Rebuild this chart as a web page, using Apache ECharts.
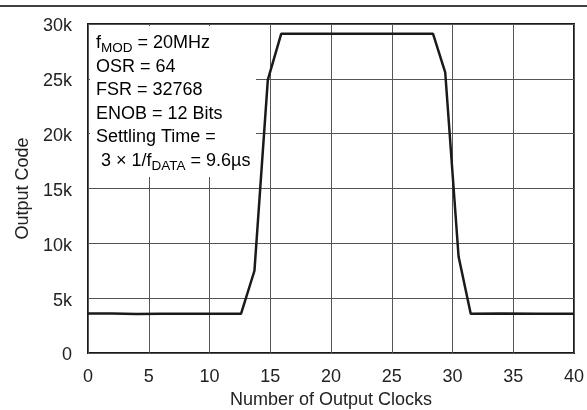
<!DOCTYPE html>
<html>
<head>
<meta charset="utf-8">
<script src="https://cdn.jsdelivr.net/npm/echarts@6/dist/echarts.min.js"></script>
<style>
  html, body { margin: 0; padding: 0; background: #fff; }
  #chart { width: 587px; height: 410px; }
</style>
</head>
<body>
<div id="chart"></div>
<script>
// 输出时钟数 / 输出码
const clocks = [0, 2, 4, 6, 8, 10, 12.6, 13.7, 14.8, 15.9, 20, 24, 28.4, 29.4, 30.5, 31.5, 34, 37, 40];
const codes  = [3600, 3600, 3550, 3580, 3580, 3580, 3580, 7500, 24900, 29100, 29100, 29120, 29100, 25600, 8800, 3580, 3600, 3580, 3580];
const xTicks = [0, 5, 10, 15, 20, 25, 30, 35, 40];
const yTicks = ['0', '5k', '10k', '15k', '20k', '25k', '30k'];

const noteLines = [
  '{n|f}{s|MOD}{n| = 20MHz}',
  '{n|OSR = 64}',
  '{n|FSR = 32768}',
  '{n|ENOB = 12 Bits}',
  '{n|Settling Time =}',
  '{n| 3 × 1/f}{s|DATA}{n| = 9.6µs}'
];

const font = 'Liberation Sans, Arial, sans-serif';
let chart = echarts.init(document.getElementById('chart'));

let option = {
  animation: false,
  grid: {
    left: 88, right: 13, top: 24, bottom: 57,
    outerBoundsMode: 'none',
    show: true, borderColor: '#1a1a1a', borderWidth: 2
  },
  xAxis: {
    type: 'value', min: 0, max: 40, interval: 5,
    name: 'Number of Output Clocks', nameLocation: 'middle', nameGap: 36,
    nameTextStyle: { fontFamily: font, fontSize: 18, color: '#222' },
    axisLine: { show: false },
    axisTick: { show: false },
    axisLabel: { fontFamily: font, fontSize: 18, color: '#222', margin: 15,
      formatter: v => String(xTicks[Math.round(v / 5)]) },
    splitLine: { lineStyle: { color: '#555', width: 1 } }
  },
  yAxis: {
    type: 'value', min: 0, max: 30000, interval: 5000,
    name: 'Output Code', nameLocation: 'middle', nameGap: 55,
    nameTextStyle: { fontFamily: font, fontSize: 18, color: '#222' },
    axisLine: { show: false },
    axisTick: { show: false },
    axisLabel: { fontFamily: font, fontSize: 18, color: '#222', margin: 16,
      verticalAlign: 'top', lineHeight: 5,
      formatter: v => yTicks[Math.round(v / 5000)] },
    splitLine: { lineStyle: { color: '#555', width: 1 } }
  },
  series: [{
    type: 'line',
    data: clocks.map((c, i) => [c, codes[i]]),
    showSymbol: false,
    z: 5,
    lineStyle: { color: '#1a1a1a', width: 2.5 }
  }],
  graphic: [
    { type: 'line', shape: { x1: 0, y1: 6, x2: 587, y2: 6 },
      style: { stroke: '#000', lineWidth: 1.5 } },
    // 注释框：白底盖住网格线
    { type: 'rect', shape: { x: 90, y: 26, width: 166, height: 151 }, z: 1,
      style: { fill: '#fff' } },
    { type: 'text', left: 96, top: 31, z: 10,
      style: {
        text: noteLines.join('\n'),
        fontFamily: font,
        rich: {
          n: { fontFamily: font, fontSize: 18, color: '#222', lineHeight: 23.6 },
          s: { fontFamily: font, fontSize: 13.5, color: '#222', lineHeight: 23.6, padding: [10, 0, 0, 0] }
        }
      } }
  ]
};

chart.setOption(option);
</script>
</body>
</html>
